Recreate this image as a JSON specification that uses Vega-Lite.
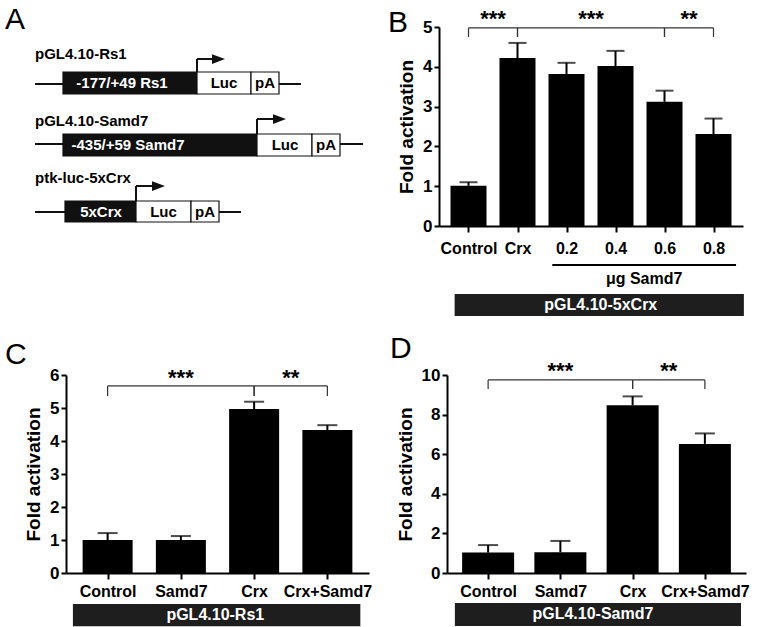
{
  "$schema": "https://vega.github.io/schema/vega-lite/v6.json",
  "padding": 5,
  "background": "white",
  "config": {
    "view": {"stroke": null},
    "font": "Liberation Sans",
    "axis": {"grid": false, "domainColor": "#000", "domainWidth": 2, "tickColor": "#000", "tickWidth": 2, "labelColor": "#000", "labelFontWeight": "bold", "titleFontWeight": "bold", "titleColor": "#000", "labelFont": "Liberation Sans", "titleFont": "Liberation Sans", "labelOverlap": false},
    "axisX": {"tickSize": 6, "labelFontSize": 16, "labelPadding": 4, "labelFlush": false, "labelOverlap": false},
    "axisY": {"tickSize": 5, "labelFontSize": 17, "labelPadding": 2, "titleFontSize": 19, "titlePadding": 6, "labelOverlap": false},
    "title": {"fontSize": 30, "fontWeight": "normal", "anchor": "start", "frame": "group", "color": "#000", "font": "Liberation Sans", "offset": 0}
  },
  "datasets": {
    "aConstructs": [
      {"construct": "pGL4.10-Rs1", "titleY": 27, "lineStart": 0, "lineEnd": 266, "lineY": 57, "junction": 162, "head": 183.5, "arrowY": 32, "boxTop": 45},
      {"construct": "pGL4.10-Samd7", "titleY": 94, "lineStart": 0, "lineEnd": 328, "lineY": 117, "junction": 222, "head": 244.5, "arrowY": 92, "boxTop": 107},
      {"construct": "ptk-luc-5xCrx", "titleY": 151, "lineStart": 0, "lineEnd": 206, "lineY": 185, "junction": 101, "head": 123.5, "arrowY": 159, "boxTop": 174}
    ],
    "aParts": [
      {"construct": "pGL4.10-Rs1", "part": "promoter", "label": "-177/+49 Rs1", "start": 28, "end": 162, "top": 45, "bottom": 67, "labelPos": 87},
      {"construct": "pGL4.10-Rs1", "part": "Luc", "label": "Luc", "start": 162, "end": 216, "top": 45, "bottom": 67, "labelPos": 189},
      {"construct": "pGL4.10-Rs1", "part": "pA", "label": "pA", "start": 216, "end": 244, "top": 45, "bottom": 67, "labelPos": 230},
      {"construct": "pGL4.10-Samd7", "part": "promoter", "label": "-435/+59 Samd7", "start": 28, "end": 222, "top": 107, "bottom": 129, "labelPos": 93},
      {"construct": "pGL4.10-Samd7", "part": "Luc", "label": "Luc", "start": 222, "end": 277, "top": 107, "bottom": 129, "labelPos": 250},
      {"construct": "pGL4.10-Samd7", "part": "pA", "label": "pA", "start": 277, "end": 305, "top": 107, "bottom": 129, "labelPos": 291},
      {"construct": "ptk-luc-5xCrx", "part": "promoter", "label": "5xCrx", "start": 30, "end": 101, "top": 174, "bottom": 195, "labelPos": 66},
      {"construct": "ptk-luc-5xCrx", "part": "Luc", "label": "Luc", "start": 101, "end": 156, "top": 174, "bottom": 195, "labelPos": 128.5},
      {"construct": "ptk-luc-5xCrx", "part": "pA", "label": "pA", "start": 156, "end": 184, "top": 174, "bottom": 195, "labelPos": 170}
    ],
    "bBars": [
      {"group": "Control", "pos": 1, "mean": 1.01, "upper": 1.1},
      {"group": "Crx", "pos": 2, "mean": 4.22, "upper": 4.6},
      {"group": "0.2", "pos": 3, "mean": 3.82, "upper": 4.1},
      {"group": "0.4", "pos": 4, "mean": 4.02, "upper": 4.4},
      {"group": "0.6", "pos": 5, "mean": 3.12, "upper": 3.4},
      {"group": "0.8", "pos": 6, "mean": 2.31, "upper": 2.7}
    ],
    "bBrackets": [
      {"comparison": "Control vs Crx", "label": "***", "pos": 1},
      {"comparison": "Control vs Crx", "label": "***", "pos": 2},
      {"comparison": "Crx vs 0.6", "label": "***", "pos": 2},
      {"comparison": "Crx vs 0.6", "label": "***", "pos": 5},
      {"comparison": "0.6 vs 0.8", "label": "**", "pos": 5},
      {"comparison": "0.6 vs 0.8", "label": "**", "pos": 6}
    ],
    "bDose": [{"label": "μg Samd7"}],
    "bVector": [{"label": "pGL4.10-5xCrx"}],
    "cBars": [
      {"group": "Control", "pos": 1, "mean": 1.0, "upper": 1.21},
      {"group": "Samd7", "pos": 2, "mean": 1.0, "upper": 1.12},
      {"group": "Crx", "pos": 3, "mean": 4.97, "upper": 5.19},
      {"group": "Crx+Samd7", "pos": 4, "mean": 4.33, "upper": 4.48}
    ],
    "cBrackets": [
      {"comparison": "Control vs Crx", "label": "***", "pos": 1},
      {"comparison": "Control vs Crx", "label": "***", "pos": 3},
      {"comparison": "Crx vs Crx+Samd7", "label": "**", "pos": 3},
      {"comparison": "Crx vs Crx+Samd7", "label": "**", "pos": 4}
    ],
    "cVector": [{"label": "pGL4.10-Rs1"}],
    "dBars": [
      {"group": "Control", "pos": 1, "mean": 1.03, "upper": 1.41},
      {"group": "Samd7", "pos": 2, "mean": 1.05, "upper": 1.62},
      {"group": "Crx", "pos": 3, "mean": 8.47, "upper": 8.92},
      {"group": "Crx+Samd7", "pos": 4, "mean": 6.52, "upper": 7.05}
    ],
    "dBrackets": [
      {"comparison": "Control vs Crx", "label": "***", "pos": 1},
      {"comparison": "Control vs Crx", "label": "***", "pos": 3},
      {"comparison": "Crx vs Crx+Samd7", "label": "**", "pos": 3},
      {"comparison": "Crx vs Crx+Samd7", "label": "**", "pos": 4}
    ],
    "dVector": [{"label": "pGL4.10-Samd7"}]
  },
  "spacing": 18,
  "vconcat": [
    {
      "bounds": "flush",
      "spacing": 73,
      "hconcat": [
        {
          "width": 300,
          "height": 199,
          "title": {"text": "A", "dx": -61, "dy": 12},
          "layer": [
            {
              "data": {"name": "aConstructs"},
              "mark": {"type": "rule", "strokeWidth": 2, "color": "#111"},
              "encoding": {
                "x": {"field": "lineStart", "type": "quantitative", "scale": {"domain": [31, 331], "nice": false, "zero": false}, "axis": null},
                "x2": {"field": "lineEnd"},
                "y": {"field": "lineY", "type": "quantitative", "scale": {"domain": [0, 199], "nice": false, "zero": false, "reverse": true}, "axis": null}
              }
            },
            {
              "data": {"name": "aConstructs"},
              "mark": {"type": "rule", "strokeWidth": 2, "color": "#111"},
              "encoding": {
                "x": {"field": "junction", "type": "quantitative"},
                "y": {"field": "arrowY", "type": "quantitative"},
                "y2": {"field": "boxTop"}
              }
            },
            {
              "data": {"name": "aConstructs"},
              "mark": {"type": "rule", "strokeWidth": 2, "color": "#111"},
              "encoding": {
                "x": {"field": "junction", "type": "quantitative"},
                "x2": {"field": "head"},
                "y": {"field": "arrowY", "type": "quantitative"}
              }
            },
            {
              "data": {"name": "aConstructs"},
              "mark": {"type": "point", "shape": "M-1,-0.75L1,0L-1,0.75Z", "size": 169, "filled": true, "color": "#111", "opacity": 1},
              "encoding": {
                "x": {"field": "head", "type": "quantitative"},
                "y": {"field": "arrowY", "type": "quantitative"}
              }
            },
            {
              "data": {"name": "aParts"},
              "mark": {"type": "rect", "stroke": "#111", "strokeWidth": 1.2},
              "encoding": {
                "x": {"field": "start", "type": "quantitative"},
                "x2": {"field": "end"},
                "y": {"field": "top", "type": "quantitative"},
                "y2": {"field": "bottom"},
                "fill": {"field": "part", "type": "nominal", "scale": {"domain": ["promoter", "Luc", "pA"], "range": ["#111111", "#ffffff", "#ffffff"]}, "legend": null}
              }
            },
            {
              "data": {"name": "aParts"},
              "mark": {"type": "text", "fontSize": 15, "fontWeight": "bold", "baseline": "middle", "align": "center", "dy": 11},
              "encoding": {
                "x": {"field": "labelPos", "type": "quantitative"},
                "y": {"field": "top", "type": "quantitative"},
                "text": {"field": "label"},
                "color": {"condition": {"test": "datum.part === 'promoter'", "value": "#ffffff"}, "value": "#000000"}
              }
            },
            {
              "data": {"name": "aConstructs"},
              "mark": {"type": "text", "fontSize": 15, "fontWeight": "bold", "baseline": "middle", "align": "left", "color": "#000"},
              "encoding": {
                "x": {"field": "lineStart", "type": "quantitative"},
                "y": {"field": "titleY", "type": "quantitative"},
                "text": {"field": "construct"}
              }
            }
          ]
        },
        {
          "width": 304,
          "height": 199,
          "title": {"text": "B", "dx": -51, "dy": 34},
          "layer": [
            {
              "data": {"name": "bBars"},
              "mark": {"type": "bar", "orient": "vertical", "size": 36, "color": "#000"},
              "encoding": {
                "x": {"field": "pos", "type": "quantitative", "scale": {"domain": [0.5, 6.5], "nice": false, "zero": false},
                      "axis": {"title": null, "values": [1, 2, 3, 4, 5, 6], "tickCount": 12, "labelExpr": "['','Control','Crx','0.2','0.4','0.6','0.8'][datum.value]", "labelPadding": 8, "labelOverlap": false}},
                "y": {"field": "mean", "type": "quantitative", "scale": {"domain": [0, 5], "nice": false}, "axis": {"title": "Fold activation", "values": [0, 1, 2, 3, 4, 5], "tickCount": 12, "format": "d", "labelOverlap": false}}
              }
            },
            {
              "data": {"name": "bBars"},
              "mark": {"type": "rule", "strokeWidth": 2, "color": "#000"},
              "encoding": {"x": {"field": "pos", "type": "quantitative"}, "y": {"field": "mean", "type": "quantitative"}, "y2": {"field": "upper"}}
            },
            {
              "data": {"name": "bBars"},
              "mark": {"type": "tick", "orient": "horizontal", "size": 18, "thickness": 2, "color": "#000"},
              "encoding": {"x": {"field": "pos", "type": "quantitative"}, "y": {"field": "upper", "type": "quantitative"}}
            },
            {
              "data": {"name": "bBrackets"},
              "transform": [{"aggregate": [{"op": "min", "field": "pos", "as": "lo"}, {"op": "max", "field": "pos", "as": "hi"}], "groupby": ["comparison", "label"]}],
              "mark": {"type": "rule", "strokeWidth": 1.2, "color": "#333"},
              "encoding": {"x": {"field": "lo", "type": "quantitative"}, "x2": {"field": "hi"}, "y": {"datum": 4.98}}
            },
            {
              "data": {"name": "bBrackets"},
              "mark": {"type": "rule", "strokeWidth": 1.2, "color": "#333"},
              "encoding": {"x": {"field": "pos", "type": "quantitative"}, "y": {"datum": 4.98}, "y2": {"datum": 4.75}}
            },
            {
              "data": {"name": "bBrackets"},
              "transform": [{"aggregate": [{"op": "mean", "field": "pos", "as": "mid"}], "groupby": ["comparison", "label"]}],
              "mark": {"type": "text", "fontSize": 22, "fontWeight": "bold", "baseline": "middle", "color": "#000"},
              "encoding": {"x": {"field": "mid", "type": "quantitative"}, "y": {"datum": 5.2}, "text": {"field": "label"}}
            },
            {
              "data": {"name": "bDose"},
              "mark": {"type": "rule", "strokeWidth": 2, "color": "#000"},
              "encoding": {"x": {"datum": 2.71}, "x2": {"datum": 6.46}, "y": {"datum": -0.98}}
            },
            {
              "data": {"name": "bDose"},
              "mark": {"type": "text", "fontSize": 16, "fontWeight": "bold", "baseline": "middle", "color": "#000"},
              "encoding": {"x": {"datum": 4.585}, "y": {"datum": -1.33}, "text": {"field": "label"}}
            },
            {
              "data": {"name": "bVector"},
              "mark": {"type": "rect", "color": "#1e1e1e"},
              "encoding": {"x": {"datum": 0.717}, "x2": {"datum": 6.62}, "y": {"datum": -1.71}, "y2": {"datum": -2.26}}
            },
            {
              "data": {"name": "bVector"},
              "mark": {"type": "text", "fontSize": 16, "fontWeight": "bold", "baseline": "middle", "color": "#fff"},
              "encoding": {"x": {"datum": 3.7}, "y": {"datum": -1.99}, "text": {"field": "label"}}
            }
          ]
        }
      ]
    },
    {
      "bounds": "flush",
      "spacing": 78,
      "hconcat": [
        {
          "width": 303,
          "height": 198,
          "title": {"text": "C", "dx": -61, "dy": 8},
          "layer": [
            {
              "data": {"name": "cBars"},
              "mark": {"type": "bar", "orient": "vertical", "size": 50, "color": "#000"},
              "encoding": {
                "x": {"field": "pos", "type": "quantitative", "scale": {"domain": [0.5, 4.5], "nice": false, "zero": false},
                      "axis": {"title": null, "values": [1, 2, 3, 4], "tickCount": 12, "labelExpr": "['','Control','Samd7','Crx','Crx+Samd7'][datum.value]", "labelOverlap": false}},
                "y": {"field": "mean", "type": "quantitative", "scale": {"domain": [0, 6], "nice": false}, "axis": {"title": "Fold activation", "values": [0, 1, 2, 3, 4, 5, 6], "tickCount": 12, "format": "d", "labelOverlap": false}}
              }
            },
            {
              "data": {"name": "cBars"},
              "mark": {"type": "rule", "strokeWidth": 2, "color": "#000"},
              "encoding": {"x": {"field": "pos", "type": "quantitative"}, "y": {"field": "mean", "type": "quantitative"}, "y2": {"field": "upper"}}
            },
            {
              "data": {"name": "cBars"},
              "mark": {"type": "tick", "orient": "horizontal", "size": 20, "thickness": 2, "color": "#000"},
              "encoding": {"x": {"field": "pos", "type": "quantitative"}, "y": {"field": "upper", "type": "quantitative"}}
            },
            {
              "data": {"name": "cBrackets"},
              "transform": [{"aggregate": [{"op": "min", "field": "pos", "as": "lo"}, {"op": "max", "field": "pos", "as": "hi"}], "groupby": ["comparison", "label"]}],
              "mark": {"type": "rule", "strokeWidth": 1.2, "color": "#333"},
              "encoding": {"x": {"field": "lo", "type": "quantitative"}, "x2": {"field": "hi"}, "y": {"datum": 5.67}}
            },
            {
              "data": {"name": "cBrackets"},
              "mark": {"type": "rule", "strokeWidth": 1.2, "color": "#333"},
              "encoding": {"x": {"field": "pos", "type": "quantitative"}, "y": {"datum": 5.67}, "y2": {"datum": 5.36}}
            },
            {
              "data": {"name": "cBrackets"},
              "transform": [{"aggregate": [{"op": "mean", "field": "pos", "as": "mid"}], "groupby": ["comparison", "label"]}],
              "mark": {"type": "text", "fontSize": 22, "fontWeight": "bold", "baseline": "middle", "color": "#000"},
              "encoding": {"x": {"field": "mid", "type": "quantitative"}, "y": {"datum": 5.9}, "text": {"field": "label"}}
            },
            {
              "data": {"name": "cVector"},
              "mark": {"type": "rect", "color": "#1e1e1e"},
              "encoding": {"x": {"datum": 0.526}, "x2": {"datum": 4.45}, "y": {"datum": -0.94}, "y2": {"datum": -1.61}}
            },
            {
              "data": {"name": "cVector"},
              "mark": {"type": "text", "fontSize": 16, "fontWeight": "bold", "baseline": "middle", "color": "#fff"},
              "encoding": {"x": {"datum": 2.47}, "y": {"datum": -1.27}, "text": {"field": "label"}}
            }
          ]
        },
        {
          "width": 299,
          "height": 198,
          "title": {"text": "D", "dx": -57, "dy": 8},
          "layer": [
            {
              "data": {"name": "dBars"},
              "mark": {"type": "bar", "orient": "vertical", "size": 52, "color": "#000"},
              "encoding": {
                "x": {"field": "pos", "type": "quantitative", "scale": {"domain": [0.5, 4.5], "nice": false, "zero": false},
                      "axis": {"title": null, "values": [1, 2, 3, 4], "tickCount": 12, "labelExpr": "['','Control','Samd7','Crx','Crx+Samd7'][datum.value]", "labelOverlap": false}},
                "y": {"field": "mean", "type": "quantitative", "scale": {"domain": [0, 10], "nice": false}, "axis": {"title": "Fold activation", "values": [0, 2, 4, 6, 8, 10], "tickCount": 12, "format": "d", "labelOverlap": false}}
              }
            },
            {
              "data": {"name": "dBars"},
              "mark": {"type": "rule", "strokeWidth": 2, "color": "#000"},
              "encoding": {"x": {"field": "pos", "type": "quantitative"}, "y": {"field": "mean", "type": "quantitative"}, "y2": {"field": "upper"}}
            },
            {
              "data": {"name": "dBars"},
              "mark": {"type": "tick", "orient": "horizontal", "size": 20, "thickness": 2, "color": "#000"},
              "encoding": {"x": {"field": "pos", "type": "quantitative"}, "y": {"field": "upper", "type": "quantitative"}}
            },
            {
              "data": {"name": "dBrackets"},
              "transform": [{"aggregate": [{"op": "min", "field": "pos", "as": "lo"}, {"op": "max", "field": "pos", "as": "hi"}], "groupby": ["comparison", "label"]}],
              "mark": {"type": "rule", "strokeWidth": 1.2, "color": "#333"},
              "encoding": {"x": {"field": "lo", "type": "quantitative"}, "x2": {"field": "hi"}, "y": {"datum": 9.75}}
            },
            {
              "data": {"name": "dBrackets"},
              "mark": {"type": "rule", "strokeWidth": 1.2, "color": "#333"},
              "encoding": {"x": {"field": "pos", "type": "quantitative"}, "y": {"datum": 9.75}, "y2": {"datum": 9.29}}
            },
            {
              "data": {"name": "dBrackets"},
              "transform": [{"aggregate": [{"op": "mean", "field": "pos", "as": "mid"}], "groupby": ["comparison", "label"]}],
              "mark": {"type": "text", "fontSize": 22, "fontWeight": "bold", "baseline": "middle", "color": "#000"},
              "encoding": {"x": {"field": "mid", "type": "quantitative"}, "y": {"datum": 10.2}, "text": {"field": "label"}}
            },
            {
              "data": {"name": "dVector"},
              "mark": {"type": "rect", "color": "#1e1e1e"},
              "encoding": {"x": {"datum": 0.54}, "x2": {"datum": 4.5}, "y": {"datum": -1.52}, "y2": {"datum": -2.68}}
            },
            {
              "data": {"name": "dVector"},
              "mark": {"type": "text", "fontSize": 16, "fontWeight": "bold", "baseline": "middle", "color": "#fff"},
              "encoding": {"x": {"datum": 2.45}, "y": {"datum": -2.07}, "text": {"field": "label"}}
            }
          ]
        }
      ]
    }
  ]
}
